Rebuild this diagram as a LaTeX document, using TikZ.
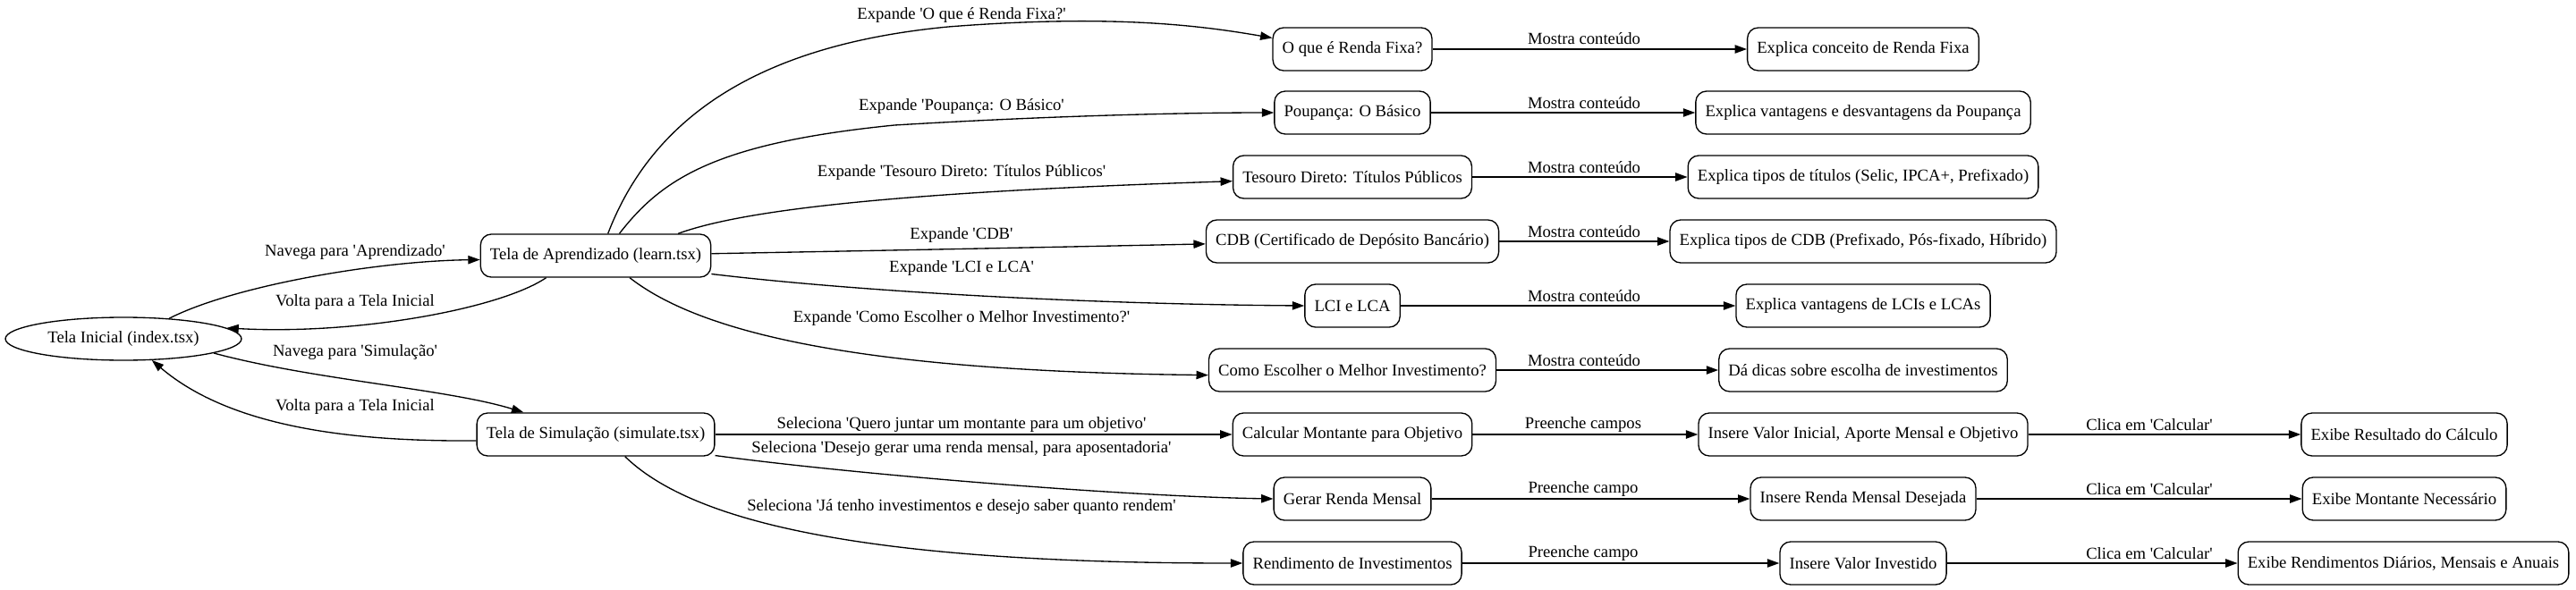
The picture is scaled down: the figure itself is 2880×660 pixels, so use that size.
\documentclass[tikz,border=0pt]{standalone}
\usepackage{fontspec}
\setmainfont{Liberation Serif}
\usetikzlibrary{arrows.meta,shapes.geometric}
\newcommand{\sq}{\textquotesingle}
\tikzset{
  base/.style={font=\fontsize{14}{16}\selectfont},
  box/.style={base, draw, line width=1pt, rounded corners=9pt, minimum height=36pt, minimum width=54pt, inner xsep=8pt, inner ysep=2pt},
  oval/.style={base, draw, line width=1pt, ellipse, minimum width=198pt, minimum height=36pt, inner sep=0pt},
  edge/.style={line width=1pt, -{Triangle[length=10pt,width=7pt]}},
  lbl/.style={base, inner sep=0pt}
}
\begin{document}
\begin{tikzpicture}[x=0.75pt,y=-0.75pt]
\useasboundingbox (0,0) rectangle (2880,660);
% nodes
\node[oval] (idx) at (138,379) {Tela Inicial (index.tsx)};
\node[box] (learn) at (666,286) {Tela de Aprendizado (learn.tsx)};
\node[box] (sim) at (666,486) {Tela de Simulação (simulate.tsx)};
\node[box] (ofixa) at (1512,55) {O que é Renda Fixa?};
\node[box] (poup) at (1512,126) {Poupança: O Básico};
\node[box] (tes) at (1512,198) {Tesouro Direto: Títulos Públicos};
\node[box] (cdb) at (1512,270) {CDB (Certificado de Depósito Bancário)};
\node[box] (lci) at (1512,342) {LCI e LCA};
\node[box] (como) at (1512,414) {Como Escolher o Melhor Investimento?};
\node[box] (calc) at (1512,486) {Calcular Montante para Objetivo};
\node[box] (gerar) at (1512,558) {Gerar Renda Mensal};
\node[box] (rend) at (1512,630) {Rendimento de Investimentos};
\node[box] (xfixa) at (2083,55) {Explica conceito de Renda Fixa};
\node[box] (xpoup) at (2083,126) {Explica vantagens e desvantagens da Poupança};
\node[box] (xtes) at (2083,198) {Explica tipos de títulos (Selic, IPCA+, Prefixado)};
\node[box] (xcdb) at (2083,270) {Explica tipos de CDB (Prefixado, Pós-fixado, Híbrido)};
\node[box] (xlci) at (2083,342) {Explica vantagens de LCIs e LCAs};
\node[box] (xcomo) at (2083,414) {Dá dicas sobre escolha de investimentos};
\node[box] (icalc) at (2083,486) {Insere Valor Inicial, Aporte Mensal e Objetivo};
\node[box] (igerar) at (2083,558) {Insere Renda Mensal Desejada};
\node[box] (irend) at (2083,630) {Insere Valor Investido};
\node[box] (rcalc) at (2688,486) {Exibe Resultado do Cálculo};
\node[box] (rgerar) at (2688,558) {Exibe Montante Necessário};
\node[box] (rrend) at (2687,630) {Exibe Rendimentos Diários, Mensais e Anuais};
% edges index <-> learn / sim
\draw[edge] (idx.24) .. controls (260,320) and (420,292) .. (learn.182);
\draw[edge] (learn.204) .. controls (560,345) and (400,375) .. (idx.6);
\draw[edge] (idx.351) .. controls (350,425) and (500,435) .. (sim.163.5);
\draw[edge] (sim.183) .. controls (400,494) and (260,480) .. (idx.323);
% learn edges
\draw[edge] (learn.61) .. controls (730,130) and (850,50) .. (1060,30) .. controls (1250,15) and (1350,30) .. (ofixa.172);
\draw[edge] (learn.43) .. controls (740,200) and (800,160) .. (1000,140) .. controls (1200,128) and (1350,126) .. (poup.west);
\draw[edge] (learn.15.4) .. controls (830,235) and (1000,215) .. (tes.182);
\draw[edge] (learn.1) .. controls (1000,280) and (1200,276) .. (cdb.181);
\draw[edge] (learn.-9) .. controls (950,325) and (1200,340) .. (lci.west);
\draw[edge] (learn.327) .. controls (780,370) and (950,415) .. (como.182.5);
% sim edges
\draw[edge] (sim.east) -- (calc.west);
\draw[edge] (sim.350) .. controls (950,530) and (1250,555) .. (gerar.west);
\draw[edge] (sim.323) .. controls (770,580) and (950,630) .. (rend.west);
% column edges
\draw[edge] (ofixa) -- (xfixa);
\draw[edge] (poup) -- (xpoup);
\draw[edge] (tes) -- (xtes);
\draw[edge] (cdb) -- (xcdb);
\draw[edge] (lci) -- (xlci);
\draw[edge] (como) -- (xcomo);
\draw[edge] (calc) -- (icalc);
\draw[edge] (gerar) -- (igerar);
\draw[edge] (rend) -- (irend);
\draw[edge] (icalc) -- (rcalc);
\draw[edge] (igerar) -- (rgerar);
\draw[edge] (irend) -- (rrend);
% labels
\node[lbl] (l1) at (397,282) {Navega para \sq Aprendizado\sq};
\node[lbl] (l2) at (397,338) {Volta para a Tela Inicial};
\node[lbl] (l3) at (397,394) {Navega para \sq Simulação\sq};
\node[lbl] (l4) at (397,455) {Volta para a Tela Inicial};
\node[lbl] (l5) at (1075,17) {Expande \sq O que é Renda Fixa?\sq};
\node[lbl] (l6) at (1075,119) {Expande \sq Poupança: O Básico\sq};
\node[lbl] (l7) at (1075,193) {Expande \sq Tesouro Direto: Títulos Públicos\sq};
\node[lbl] (l8) at (1075,263) {Expande \sq CDB\sq};
\node[lbl] (l9) at (1075,300) {Expande \sq LCI e LCA\sq};
\node[lbl] (l10) at (1075,356) {Expande \sq Como Escolher o Melhor Investimento?\sq};
\node[lbl] (l11) at (1075,475) {Seleciona \sq Quero juntar um montante para um objetivo\sq};
\node[lbl] (l12) at (1075,502) {Seleciona \sq Desejo gerar uma renda mensal, para aposentadoria\sq};
\node[lbl] (l13) at (1075,567) {Seleciona \sq Já tenho investimentos e desejo saber quanto rendem\sq};
\node[lbl] (m1) at (1771,43) {Mostra conteúdo};
\node[lbl] (m2) at (1771,115) {Mostra conteúdo};
\node[lbl] (m3) at (1771,187) {Mostra conteúdo};
\node[lbl] (m4) at (1771,259) {Mostra conteúdo};
\node[lbl] (m5) at (1771,331) {Mostra conteúdo};
\node[lbl] (m6) at (1771,403) {Mostra conteúdo};
\node[lbl] (p1) at (1770,475) {Preenche campos};
\node[lbl] (p2) at (1770,547) {Preenche campo};
\node[lbl] (p3) at (1770,619) {Preenche campo};
\node[lbl] (c1) at (2403,475) {Clica em \sq Calcular\sq};
\node[lbl] (c2) at (2403,547) {Clica em \sq Calcular\sq};
\node[lbl] (c3) at (2403,619) {Clica em \sq Calcular\sq};
\end{tikzpicture}
\end{document}
